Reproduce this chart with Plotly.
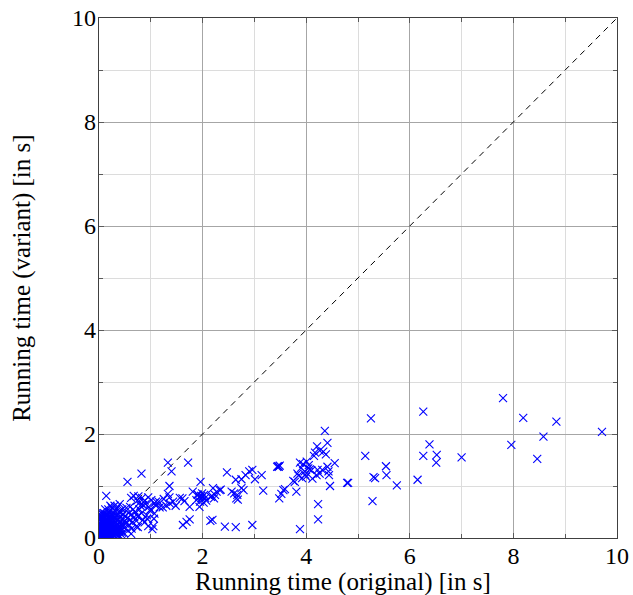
import plotly.graph_objects as go

# Running time (original) [s] vs running time (variant) [s]
cluster_x = [0.02,0.03,0.05,0.04,0.06,0.08,0.07,0.10,0.09,0.12,
             0.03,0.05,0.02,0.06,0.04,0.08,0.11,0.13,0.15,0.14,
             0.17,0.19,0.16,0.10,0.12,0.08,0.15,0.18,0.20,0.22,
             0.21,0.24,0.25,0.27,0.26,0.23,0.20,0.28,0.30,0.32,
             0.30,0.29,0.33,0.35,0.36,0.34,0.38,0.33,0.40,0.42,
             0.41,0.40,0.43,0.45,0.47,0.46,0.50,0.52,0.49,0.55,
             0.57,0.60,0.58,0.62,0.65,0.63,0.68,0.70,0.72,0.66,
             0.01,0.02,0.01,0.06,0.07,0.04,0.10,0.25,0.36,0.45,
             0.18,0.30,0.53,0.14,0.20,0.28,0.38,0.48,0.56,0.62,
             0.05,0.12,0.22,0.40,0.75,0.78,0.80,0.72,0.82,0.60,
             0.01,0.02,0.03,0.04,0.05,0.06,0.07,0.09,0.11,0.13,
             0.01,0.03,0.05,0.07,0.09,0.11,0.13,0.16,0.19,0.23,
             0.02,0.04,0.06,0.08,0.10,0.12,0.14,0.17,0.21,0.26,
             0.03,0.05,0.07,0.09,0.12,0.15,0.18,0.22,0.27,0.31,
             0.02,0.04,0.06,0.09,0.11,0.14,0.17,0.20,0.24,0.35,
             0.01,0.03,0.08,0.13,0.19,0.25,0.31,0.37,0.44,0.51,
             0.16,0.19,0.22,0.25,0.28,0.31,0.34,0.37,0.40,0.43,
             0.18,0.21,0.24,0.27,0.30,0.33,0.36,0.39,0.42,0.45,
             0.15,0.20,0.25,0.30,0.35,0.40,0.45,0.50,0.32,0.27]
cluster_y = [0.01,0.02,0.03,0.05,0.02,0.04,0.07,0.05,0.10,0.08,
             0.10,0.15,0.20,0.25,0.30,0.18,0.14,0.20,0.12,0.06,
             0.09,0.15,0.25,0.30,0.35,0.40,0.45,0.38,0.30,0.22,
             0.10,0.05,0.16,0.25,0.35,0.42,0.50,0.48,0.40,0.30,
             0.20,0.12,0.08,0.18,0.27,0.37,0.45,0.55,0.52,0.40,
             0.32,0.22,0.14,0.28,0.36,0.46,0.42,0.30,0.20,0.38,
             0.48,0.35,0.25,0.45,0.30,0.18,0.40,0.50,0.33,0.55,
             0.05,0.08,0.12,0.12,0.35,0.42,0.48,0.58,0.60,0.55,
             0.55,0.62,0.58,0.03,0.02,0.04,0.06,0.10,0.14,0.08,
             0.50,0.55,0.62,0.65,0.42,0.55,0.62,0.22,0.48,0.60,
             0.03,0.01,0.06,0.02,0.08,0.04,0.11,0.03,0.06,0.13,
             0.16,0.22,0.09,0.19,0.14,0.24,0.10,0.18,0.07,0.12,
             0.27,0.33,0.21,0.28,0.18,0.26,0.32,0.22,0.17,0.20,
             0.38,0.24,0.31,0.37,0.29,0.34,0.27,0.35,0.31,0.24,
             0.44,0.40,0.46,0.43,0.41,0.37,0.44,0.42,0.39,0.33,
             0.35,0.27,0.29,0.09,0.05,0.28,0.15,0.25,0.24,0.27,
             0.04,0.07,0.03,0.09,0.06,0.12,0.08,0.04,0.11,0.07,
             0.30,0.35,0.12,0.41,0.09,0.15,0.21,0.13,0.19,0.24,
             0.33,0.38,0.44,0.48,0.43,0.49,0.10,0.33,0.17,0.13]

mid_x = [0.14,0.55,0.82,0.67,0.76,0.62,0.83,0.74,0.88,1.01,1.07,0.85,0.96,0.75,0.93,1.06,0.75,0.95,1.05,
         1.33,1.72,1.40,1.36,1.33,1.96,1.81,1.91,1.97,2.03,1.88,2.07,2.16,1.61,1.65,1.43,1.37,1.23,1.17,1.07,0.98,
         0.92,0.85,1.03,0.88,1.62,1.75,1.69,2.15,0.78,1.48,
         1.93,1.98,2.00,1.95,2.02,1.90,2.05,1.99,
         0.90,1.00,1.10,0.95,1.15,1.25,1.30,1.36,1.56,1.10,1.75,1.94,
         2.47,2.64,2.75,2.83,2.90,2.96,3.01,3.14,3.17,3.46,3.47,3.44,3.49,3.59,3.52,3.48,3.56,
         2.56,2.61,2.67,2.65,2.68,2.75,2.79,2.20,2.27,2.24,2.18,2.22,2.33,2.35,2.19,2.43,2.64,2.96,
         4.36,4.41,4.21,4.17,4.26,4.33,4.38,4.15,4.55,4.41,4.44,4.79,4.46,3.88,3.94,4.04,4.07,4.10,3.97,3.83,
         3.78,3.81,3.75,4.22,4.26,4.20,4.12,4.23,4.23,3.88,4.01,4.31,4.43,
         3.85,3.92,4.00,3.90,4.05,3.98]
mid_y = [0.81,1.08,1.24,0.81,0.80,0.77,0.77,0.72,0.72,0.73,0.67,0.63,0.60,0.41,0.37,0.37,0.21,0.23,0.23,
         1.45,1.45,1.28,1.00,0.85,1.08,0.89,0.83,0.81,0.83,0.73,0.72,0.79,0.76,0.71,0.70,0.66,0.59,0.59,0.47,0.53,
         0.44,0.35,0.17,0.30,0.25,0.36,0.31,0.33,0.68,0.62,
         0.78,0.76,0.80,0.70,0.68,0.84,0.77,0.86,
         0.65,0.55,0.62,0.78,0.70,0.75,0.62,0.78,0.77,0.70,0.60,0.60,
         1.26,1.12,1.13,1.21,1.28,1.31,1.13,1.21,0.91,1.38,1.37,1.37,1.39,0.94,0.85,0.76,0.92,
         0.89,0.86,0.83,0.76,0.74,0.96,0.92,0.96,0.89,0.83,0.81,0.76,0.92,0.93,0.35,0.22,0.21,0.25,
         2.06,1.83,1.76,1.64,1.68,1.66,1.61,1.58,1.44,1.37,1.21,1.06,1.00,1.45,1.42,1.34,1.32,1.30,1.28,1.24,
         1.08,0.89,1.10,1.31,1.24,1.21,1.14,0.65,0.36,0.17,1.47,1.31,1.28,
         1.20,1.15,1.18,1.35,1.40,1.22]

far_x = [4.81,5.25,6.26,6.38,6.26,6.52,6.51,6.15,5.14,5.54,5.55,5.30,5.33,5.75,5.28,
         7.80,8.19,7.96,7.00,8.83,8.58,8.46,9.71]
far_y = [1.06,2.30,2.43,1.80,1.58,1.60,1.45,1.12,1.58,1.38,1.21,1.17,1.15,1.01,0.71,
         2.69,2.31,1.79,1.55,2.24,1.95,1.52,2.04]

orig = cluster_x + mid_x + far_x
variant = cluster_y + mid_y + far_y

diag = [0, 10]
x_ticks = [0, 2, 4, 6, 8, 10]
y_ticks = [0, 2, 4, 6, 8, 10]
x_title = "Running time (original) [in s]"
y_title = "Running time (variant) [in s]"

fig = go.Figure()
fig.add_trace(go.Scatter(x=diag, y=diag, mode="lines",
                         line=dict(color="black", width=1, dash="6px,5px"),
                         hoverinfo="skip", showlegend=False))
fig.add_trace(go.Scatter(x=orig, y=variant, mode="markers",
                         marker=dict(symbol="x-thin-open", size=8, color="#0000ff",
                                     line=dict(color="#0000ff", width=1.1)),
                         showlegend=False))

family = "Liberation Serif, Times New Roman, serif"
font = dict(family=family, size=25, color="black")
tickfont = dict(family=family, size=24, color="black")
axis_common = dict(range=[0, 10], dtick=2, showgrid=True, gridcolor="#a6a6a6", gridwidth=1,
                   ticks="inside", ticklen=5, tickcolor="#5a5a5a",
                   showline=True, linecolor="#404040", linewidth=1.3, mirror="all",
                   zeroline=False, tickfont=tickfont, automargin=False,
                   ticklabeloverflow="allow",
                   minor=dict(dtick=1, showgrid=True, gridcolor="#dcdcdc", gridwidth=1,
                              ticks="inside", ticklen=4, tickcolor="#5a5a5a"))

fig.update_layout(
    width=633, height=595,
    margin=dict(l=99, r=16, t=18, b=57),
    paper_bgcolor="white", plot_bgcolor="white",
    font=font,
    xaxis=dict(**axis_common, tickvals=x_ticks, ticklabelstandoff=-4),
    yaxis=dict(**axis_common, tickvals=y_ticks, ticklabelstandoff=-3),
    annotations=[
        dict(text=x_title, xref="paper", yref="paper", x=0.471, y=-0.084,
             xanchor="center", yanchor="middle", showarrow=False, font=font),
        dict(text=y_title, xref="paper", yref="paper", x=-0.149, y=0.5, textangle=-90,
             xanchor="center", yanchor="middle", showarrow=False, font=font),
    ],
)

# remove the default 8px body margin so the figure sits at the page origin
fig.write_html("out.html", config={"displayModeBar": False},
               post_script="document.body.style.margin='0';document.body.style.overflow='hidden';")
